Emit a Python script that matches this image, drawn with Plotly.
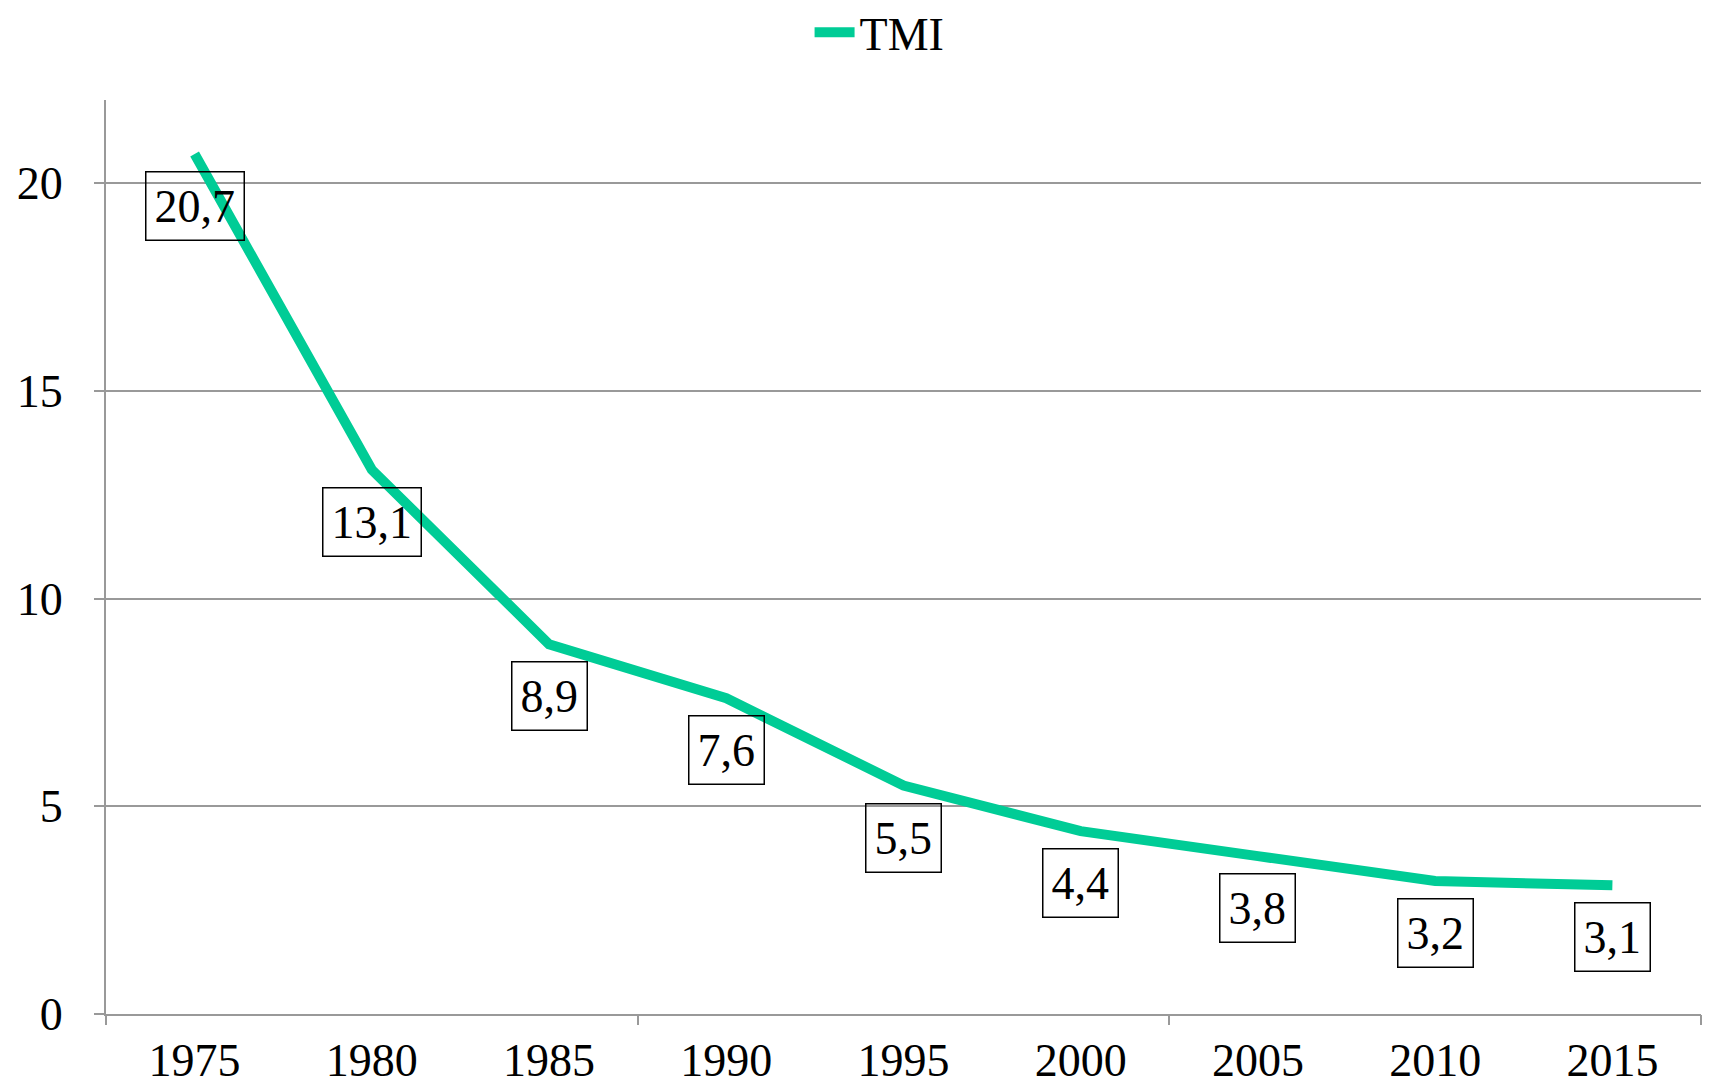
import plotly.graph_objects as go

years = ["1975", "1980", "1985", "1990", "1995", "2000", "2005", "2010", "2015"]
tmi = [20.7, 13.1, 8.9, 7.6, 5.5, 4.4, 3.8, 3.2, 3.1]
labels = ["20,7", "13,1", "8,9", "7,6", "5,5", "4,4", "3,8", "3,2", "3,1"]
series_name = "TMI"
y_ticks = [0, 5, 10, 15, 20]
group_edges = [-0.5, 2.5, 5.5, 8.5]

FONT = "Liberation Serif, Times New Roman, serif"
GREEN = "#00CC96"
GRID = "#999999"
FS = 46

x_pos = list(range(len(years)))

fig = go.Figure()
fig.add_trace(go.Scatter(
    x=x_pos, y=tmi, mode="lines", name=series_name,
    line=dict(color=GREEN, width=10),
))
# invisible trace to activate secondary x axis (group tick marks)
fig.add_trace(go.Scatter(x=[group_edges[0]], y=[0], xaxis="x2", mode="markers",
                         marker=dict(opacity=0), showlegend=False, hoverinfo="skip"))

for xi, yi, lab in zip(x_pos, tmi, labels):
    fig.add_annotation(
        x=xi, y=yi, text=lab, showarrow=False, yshift=-52,
        font=dict(family=FONT, size=FS, color="black"),
        bordercolor="black", borderwidth=1.5, borderpad=8,
        bgcolor="rgba(0,0,0,0)",
    )

fig.update_layout(
    width=1703, height=1081,
    margin=dict(l=98, r=10, t=92, b=75, autoexpand=False),
    paper_bgcolor="white", plot_bgcolor="white",
    font=dict(family=FONT, size=FS, color="black"),
    showlegend=True,
    legend=dict(orientation="h", x=0.485, xanchor="center", y=1.074, yanchor="middle",
                font=dict(family=FONT, size=FS, color="black"),
                bgcolor="rgba(0,0,0,0)", itemwidth=40),
    xaxis=dict(
        range=[-0.5, 8.5], tickmode="array", tickvals=x_pos, ticktext=years,
        showgrid=False, zeroline=False, showline=True, linecolor=GRID, linewidth=2,
        ticks="", tickfont=dict(family=FONT, size=FS, color="black"),
        ticklabelstandoff=5,
    ),
    xaxis2=dict(
        overlaying="x", range=[-0.5, 8.5], tickmode="array", tickvals=group_edges,
        showticklabels=False, ticks="outside", ticklen=10, tickcolor=GRID, tickwidth=2,
        showgrid=False, zeroline=False, showline=False, side="bottom",
    ),
    yaxis=dict(
        range=[0, 22], tickmode="array", tickvals=y_ticks,
        showgrid=True, gridcolor=GRID, gridwidth=2, zeroline=False,
        showline=True, linecolor=GRID, linewidth=2,
        ticks="outside", ticklen=10, tickcolor=GRID, tickwidth=2,
        tickfont=dict(family=FONT, size=FS, color="black"),
        ticklabelstandoff=22,
    ),
)

fig.write_html("out.html")
